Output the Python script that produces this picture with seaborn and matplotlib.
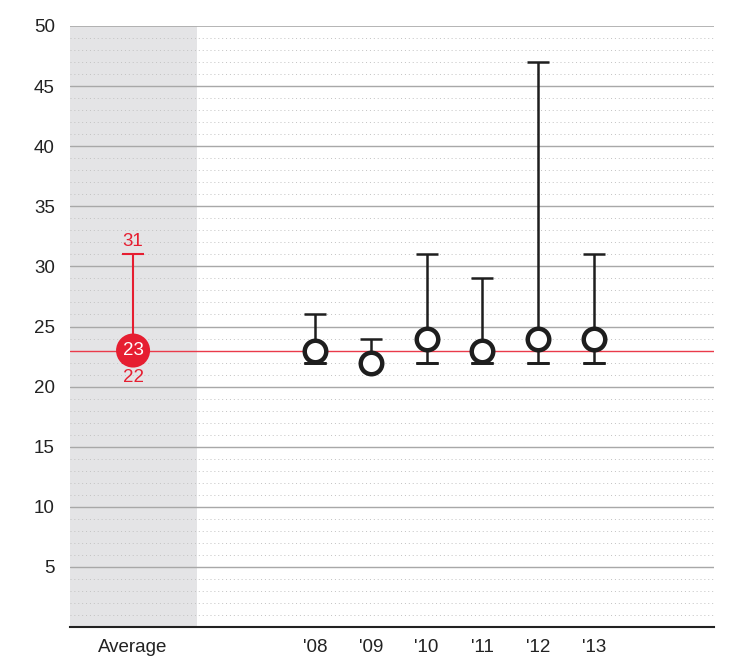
import numpy as np
import pandas as pd
import matplotlib
matplotlib.use("Agg")
import matplotlib.pyplot as plt
import seaborn as sns

# Data
years = ["'08", "'09", "'10", "'11", "'12", "'13"]
mid = [23, 22, 24, 23, 24, 24]
low = [22, 22, 22, 22, 22, 22]
high = [26, 24, 31, 29, 47, 31]
avg_label = "Average"
avg_mid = 23
avg_low = 22
avg_high = 31

RED = "#e61e31"
INK = "#1e1e1e"

sns.set_style("white")
plt.rcParams["font.family"] = ["Liberation Sans", "DejaVu Sans"]

fig = plt.figure(figsize=(7.29, 6.59), dpi=100)
ax = fig.add_axes([70 / 729, 32 / 659, 644 / 729, 601 / 659])

# x layout (years at 0..5, average placed to the left)
xs = np.arange(len(years))
avg_x = -3.26
ax.set_xlim(-4.39, 7.15)
ax.set_ylim(0, 50)

# grey band behind the average column
ax.axvspan(-4.39, -2.11, color="#e4e4e6", zorder=0, lw=0)

# grid
for y in range(1, 50):
    if y % 5 == 0:
        ax.axhline(y, color="#a8a8a8", lw=1.0, zorder=1)
    else:
        ax.axhline(y, color="#c2c2c2", lw=0.7, ls=(0, (1, 3)), zorder=1)
ax.axhline(50, color="#a8a8a8", lw=1.2, zorder=1)

# average reference line
ax.axhline(avg_mid, color="#ea3a4a", lw=1.0, zorder=2)

# year ranges
df = pd.DataFrame({"x": xs, "mid": mid, "low": low, "high": high})
zeros = np.zeros(len(df))
ax.errorbar(df["x"], df["low"], yerr=[zeros, df["high"] - df["low"]],
            fmt="none", ecolor=INK, elinewidth=1.8, capsize=8, capthick=1.8, zorder=3)
ax.errorbar(df["x"], df["low"], yerr=[zeros, zeros],
            fmt="none", ecolor=INK, elinewidth=1.8, capsize=8, capthick=1.8, zorder=3)
sns.scatterplot(data=df, x="x", y="mid", ax=ax, s=240, marker="o",
                facecolor="white", edgecolor=INK, linewidth=3.2, zorder=4, legend=False)

# average range
ax.errorbar([avg_x], [avg_low], yerr=[[0], [avg_high - avg_low]], fmt="none",
            ecolor=RED, elinewidth=1.5, capsize=8, capthick=1.5, zorder=3)
ax.scatter([avg_x], [avg_mid], s=600, color=RED, edgecolor="none", zorder=4)
ax.text(avg_x, avg_mid, str(avg_mid), color="white", ha="center", va="center",
        fontsize=13.5, zorder=5)
ax.text(avg_x, avg_high + 0.35, str(avg_high), color=RED, ha="center", va="bottom",
        fontsize=13.5)
ax.text(avg_x, avg_low - 0.55, str(avg_low), color=RED, ha="center", va="top",
        fontsize=13.5)

# axes styling
ax.set_xticks([avg_x] + list(xs))
ax.set_xticklabels([avg_label] + years)
ax.set_yticks(range(5, 51, 5))
ax.tick_params(axis="both", length=0, labelsize=13.5, colors="#222222")
ax.tick_params(axis="y", pad=11)
ax.tick_params(axis="x", pad=9)
ax.set_xlabel("")
ax.set_ylabel("")
for side in ["top", "right", "left"]:
    ax.spines[side].set_visible(False)
ax.spines["bottom"].set_color("#222222")
ax.spines["bottom"].set_linewidth(1.5)
ax.spines["bottom"].set_zorder(6)

fig.savefig("out.png", dpi=100, facecolor="white")
